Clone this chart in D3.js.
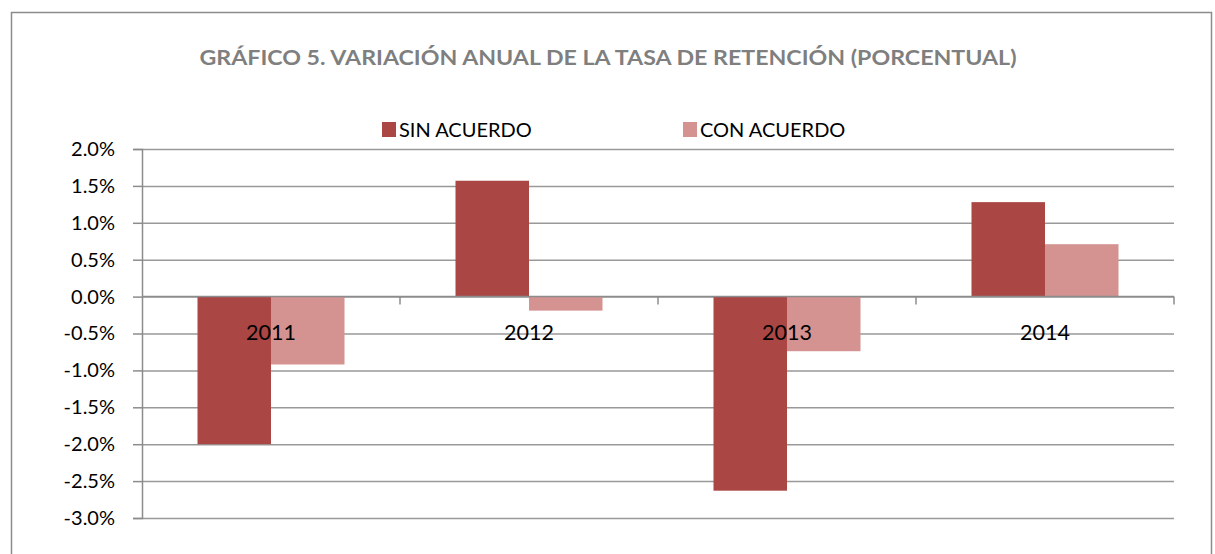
<!DOCTYPE html>
<html>
<head>
<meta charset="utf-8">
<script src="https://cdn.jsdelivr.net/npm/d3@7"></script>
<style>
  body { margin: 0; background: #fff; }
  svg { display: block; font-family: Lato, "Open Sans", sans-serif; }
</style>
</head>
<body>
<div id="chart"></div>
<script>
// --- datos ---
const categories = ["2011", "2012", "2013", "2014"];
const seriesNames = ["SIN ACUERDO", "CON ACUERDO"];
const sinAcuerdo = [-2.0, 1.57, -2.63, 1.28];
const conAcuerdo = [-0.92, -0.19, -0.74, 0.71];
const tickValues = [2.0, 1.5, 1.0, 0.5, 0.0, -0.5, -1.0, -1.5, -2.0, -2.5, -3.0];
const tickLabels = ["2.0%", "1.5%", "1.0%", "0.5%", "0.0%", "-0.5%", "-1.0%", "-1.5%", "-2.0%", "-2.5%", "-3.0%"];
const colors = ["#AA4745", "#D49291"];
const titleText = "GRÁFICO 5. VARIACIÓN ANUAL DE LA TASA DE RETENCIÓN (PORCENTUAL)";

const width = 1215, height = 554;
const margin = { top: 149, right: 41, bottom: 36, left: 142 };
const innerW = width - margin.left - margin.right;
const plotBottom = 518;

const svg = d3.select("#chart").append("svg")
    .attr("width", width)
    .attr("height", height);

// marco exterior
svg.append("rect")
    .attr("x", 11.5).attr("y", 12.5)
    .attr("width", 1200).attr("height", 600)
    .attr("fill", "none")
    .attr("stroke", "#8c8c8c")
    .attr("stroke-width", 1.5);

// titulo
svg.append("text")
    .attr("x", 608).attr("y", 65)
    .attr("text-anchor", "middle")
    .attr("fill", "#7f7f7f")
    .attr("font-weight", "bold")
    .attr("font-size", 20)
    .attr("textLength", 817)
    .attr("lengthAdjust", "spacingAndGlyphs")
    .text(titleText);

// escalas
const y = d3.scaleLinear()
    .domain([-3.0, 2.0])
    .range([plotBottom, margin.top]);

const x0 = d3.scaleBand()
    .domain(categories)
    .range([margin.left, margin.left + innerW])
    .paddingInner(0).paddingOuter(0);

const x1 = d3.scaleBand()
    .domain(seriesNames)
    .range([0, x0.bandwidth()])
    .paddingInner(0)
    .paddingOuter(0.755);

const g = svg.append("g");

// lineas de cuadricula
const grid = g.append("g")
    .attr("transform", `translate(${margin.left},0)`)
    .call(d3.axisLeft(y).tickValues(tickValues).tickSize(-innerW).tickFormat(""));
grid.select(".domain").remove();
grid.selectAll(".tick line")
    .attr("stroke", "#999")
    .attr("stroke-width", 1.5);

// barras
const rows = categories.map((c, i) => ({ cat: c, values: [sinAcuerdo[i], conAcuerdo[i]] }));
g.selectAll(".cat")
    .data(rows)
    .enter().append("g")
    .attr("class", "cat")
    .attr("transform", d => `translate(${x0(d.cat)},0)`)
    .selectAll("rect")
    .data(d => d.values.map((v, j) => ({ key: seriesNames[j], value: v, idx: j })))
    .enter().append("rect")
    .attr("x", d => x1(d.key))
    .attr("width", x1.bandwidth())
    .attr("y", d => y(Math.max(0, d.value)))
    .attr("height", d => Math.abs(y(d.value) - y(0)))
    .attr("fill", d => colors[d.idx]);

// eje Y
const yAxis = g.append("g")
    .attr("transform", `translate(${margin.left},0)`)
    .call(d3.axisLeft(y).tickValues(tickValues).tickSize(9).tickPadding(18)
        .tickFormat((d, i) => tickLabels[i]));
yAxis.select(".domain")
    .attr("stroke", "#8c8c8c").attr("stroke-width", 1.5);
yAxis.selectAll(".tick line")
    .attr("stroke", "#8c8c8c").attr("stroke-width", 1.5);
yAxis.selectAll(".tick text")
    .attr("fill", "#000")
    .attr("font-size", 20)
    .attr("font-family", "Lato, sans-serif");

// eje X en cero
const y0 = y(0);
g.append("line")
    .attr("x1", margin.left).attr("x2", margin.left + innerW)
    .attr("y1", y0).attr("y2", y0)
    .attr("stroke", "#8c8c8c").attr("stroke-width", 1.5);
g.selectAll(".xtick")
    .data(categories)
    .enter().append("line")
    .attr("class", "xtick")
    .attr("x1", d => x0(d) + x0.bandwidth())
    .attr("x2", d => x0(d) + x0.bandwidth())
    .attr("y1", y0).attr("y2", y0 + 8)
    .attr("stroke", "#8c8c8c").attr("stroke-width", 1.5);

// etiquetas de categorias
g.selectAll(".xlabel")
    .data(categories)
    .enter().append("text")
    .attr("class", "xlabel")
    .attr("x", d => x0(d) + x0.bandwidth() / 2)
    .attr("y", y0 + 43)
    .attr("text-anchor", "middle")
    .attr("font-size", 21.5)
    .attr("fill", "#000")
    .text(d => d);

// leyenda
const legendX = [382, 683];
const legend = svg.selectAll(".legend")
    .data(seriesNames)
    .enter().append("g")
    .attr("class", "legend")
    .attr("transform", (d, i) => `translate(${legendX[i]},122)`);
legend.append("rect")
    .attr("width", 14).attr("height", 15)
    .attr("fill", (d, i) => colors[i]);
legend.append("text")
    .attr("x", 17).attr("y", 15)
    .attr("font-size", 20)
    .attr("fill", "#000")
    .text(d => d);
</script>
</body>
</html>
